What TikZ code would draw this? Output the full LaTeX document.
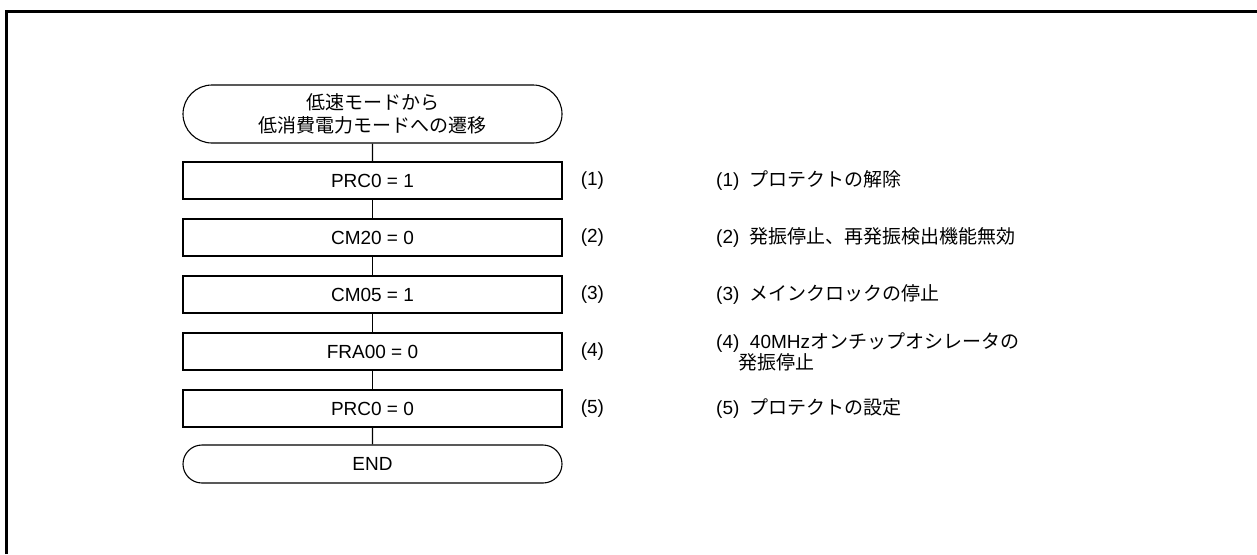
\documentclass[tikz,border=0pt]{standalone}
\usepackage{fontspec}
\setmainfont{Liberation Sans}
\newfontfamily\jpfont{Noto Sans CJK JP}
\usepackage{tikz}
\usetikzlibrary{positioning, shapes.misc}
\tikzset{
  termbox/.style={
    rounded rectangle, draw=black, line width=1.1pt,
    minimum width=379pt, minimum height=#1,
    inner sep=0pt, align=center
  },
  procbox/.style={
    rectangle, draw=black, line width=1.1pt,
    minimum width=379pt, minimum height=37pt,
    inner sep=0pt
  },
  stepnum/.style={inner sep=0pt},
  stepnote/.style={anchor=west, inner sep=0pt, align=left},
  flowline/.style={draw=black, line width=1.1pt},
  frameline/.style={draw=black, line width=3pt}
}

\begin{document}
\begin{tikzpicture}[x=1pt, y=-1pt, font=\fontsize{19}{23}\selectfont]
  \useasboundingbox (0,0) rectangle (1257,554);
  \draw[frameline] (6,554) -- (6,11) -- (1257,11);

  % flow
  \node[termbox=58pt, font=\jpfont\fontsize{19}{22.5}\selectfont] (start) at (372.5,114) {低速モードから\\低消費電力モードへの遷移};
  \node[procbox] (prcon) at (372.5,180.5) {PRC0 = 1};
  \node[procbox] (cmtwo) at (372.5,237.5) {CM20 = 0};
  \node[procbox] (cmfive) at (372.5,294.5) {CM05 = 1};
  \node[procbox] (fra) at (372.5,351.5) {FRA00 = 0};
  \node[procbox] (prcoff) at (372.5,408.5) {PRC0 = 0};
  \node[termbox=38pt] (fin) at (372.5,464) {END};
  \draw[flowline] (start) -- (prcon);
  \draw[flowline] (prcon) -- (cmtwo);
  \draw[flowline] (cmtwo) -- (cmfive);
  \draw[flowline] (cmfive) -- (fra);
  \draw[flowline] (fra) -- (prcoff);
  \draw[flowline] (prcoff) -- (fin);

  % step numbers
  \node[stepnum, right=18pt of prcon] (numa) {(1)};
  \node[stepnum, right=18pt of cmtwo] (numb) {(2)};
  \node[stepnum, right=18pt of cmfive] (numc) {(3)};
  \node[stepnum, right=18pt of fra] (numd) {(4)};
  \node[stepnum, right=18pt of prcoff] (nume) {(5)};

  % notes
  \node[stepnote] (notea) at (716,180.5) {(1)\ \ {\jpfont プロテクトの解除}};
  \node[stepnote] (noteb) at (716,237.5) {(2)\ \ {\jpfont 発振停止、再発振検出機能無効}};
  \node[stepnote] (notec) at (716,294.5) {(3)\ \ {\jpfont メインクロックの停止}};
  \node[stepnote, font=\fontsize{19}{19}\selectfont] (noted) at (716,352) {(4)\ \ 40MHz{\jpfont オンチップオシレータの}\\\hspace*{1.15em}{\jpfont 発振停止}};
  \node[stepnote] (notee) at (716,408.5) {(5)\ \ {\jpfont プロテクトの設定}};
\end{tikzpicture}
\end{document}
